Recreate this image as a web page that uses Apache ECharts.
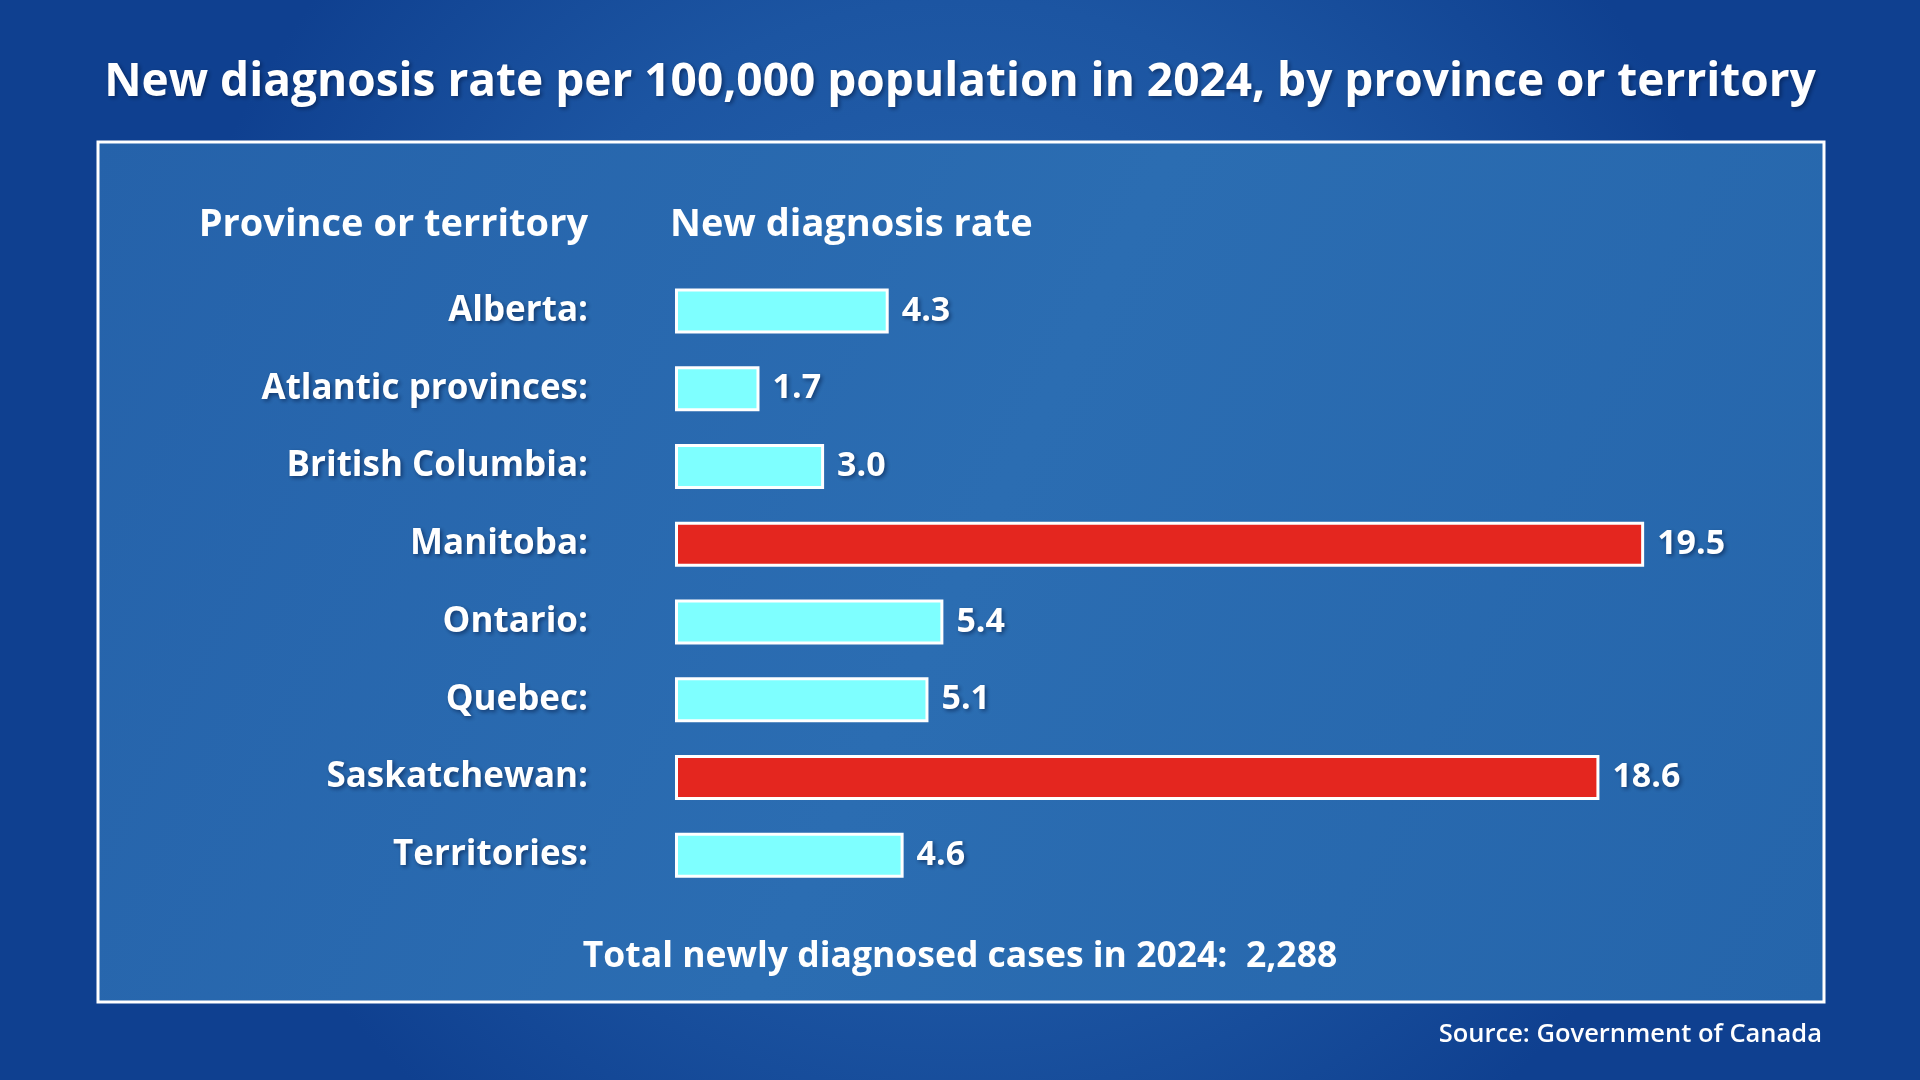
<!DOCTYPE html>
<html>
<head>
<meta charset="utf-8">
<title>New diagnosis rate by province or territory</title>
<script src="https://cdn.jsdelivr.net/npm/echarts@6/dist/echarts.min.js"></script>
<style>
  html, body { margin: 0; padding: 0; background: #134a96; }
  #chart { width: 1920px; height: 1080px; }
</style>
</head>
<body>
<div id="chart"></div>
<script>
const provinces = [
  "Alberta",
  "Atlantic provinces",
  "British Columbia",
  "Manitoba",
  "Ontario",
  "Quebec",
  "Saskatchewan",
  "Territories"
];
const rates = [4.3, 1.7, 3.0, 19.5, 5.4, 5.1, 18.6, 4.6];
const highlighted = ["Manitoba", "Saskatchewan"];

const titleText = "New diagnosis rate per 100,000 population in 2024, by province or territory";
const leftHeader = "Province or territory";
const rightHeader = "New diagnosis rate";
const totalText = "Total newly diagnosed cases in 2024:  2,288";
const sourceText = "Source: Government of Canada";

const FONT = "Open Sans";
const shadow = {
  textShadowColor: "rgba(0, 20, 60, 0.55)",
  textShadowBlur: 4,
  textShadowOffsetX: 2,
  textShadowOffsetY: 2
};
const gShadow = { shadowColor: "rgba(0,20,60,0.55)", shadowBlur: 4, shadowOffsetX: 2, shadowOffsetY: 2 };

const chart = echarts.init(document.getElementById("chart"));

chart.setOption({
  animation: false,
  title: {
    text: titleText,
    left: "center",
    top: 55,
    textStyle: Object.assign({
      color: "#ffffff",
      fontFamily: FONT,
      fontWeight: "bold",
      fontSize: 46
    }, shadow)
  },
  graphic: [
    {
      // page background
      type: "rect",
      z: -20,
      silent: true,
      shape: { x: 0, y: 0, width: 1920, height: 1080 },
      style: {
        fill: {
          type: "radial", x: 0.5, y: 0.45, r: 0.75,
          colorStops: [
            { offset: 0, color: "#2a68b0" },
            { offset: 0.6, color: "#1c55a2" },
            { offset: 1, color: "#0f4090" }
          ]
        }
      }
    },
    {
      // framed panel
      type: "rect",
      z: -10,
      silent: true,
      shape: { x: 98, y: 142, width: 1726, height: 860 },
      style: {
        fill: {
          type: "linear", x: 0, y: 0, x2: 1, y2: 1,
          colorStops: [
            { offset: 0, color: "#2562aa" },
            { offset: 0.5, color: "#2b6db2" },
            { offset: 1, color: "#2565ab" }
          ]
        },
        stroke: "#ffffff",
        lineWidth: 3
      }
    },
    {
      type: "text",
      z: 10,
      style: Object.assign({
        x: 588, y: 225,
        text: leftHeader,
        fill: "#ffffff",
        font: "bold 38px " + FONT,
        textAlign: "right",
        textVerticalAlign: "middle"
      }, gShadow)
    },
    {
      type: "text",
      z: 10,
      style: Object.assign({
        x: 670, y: 225,
        text: rightHeader,
        fill: "#ffffff",
        font: "bold 38px " + FONT,
        textAlign: "left",
        textVerticalAlign: "middle"
      }, gShadow)
    },
    {
      type: "text",
      z: 10,
      style: Object.assign({
        x: 960, y: 957,
        text: totalText,
        fill: "#ffffff",
        font: "bold 35.5px " + FONT,
        textAlign: "center",
        textVerticalAlign: "middle"
      }, gShadow)
    },
    {
      type: "text",
      z: 10,
      style: {
        x: 1822, y: 1035,
        text: sourceText,
        fill: "#ffffff",
        font: "600 25.5px " + FONT,
        textAlign: "right",
        textVerticalAlign: "middle",
        shadowColor: "rgba(0,20,60,0.55)", shadowBlur: 3, shadowOffsetX: 1, shadowOffsetY: 1
      }
    }
  ],
  grid: {
    left: 675,
    width: 994,
    top: 272,
    height: 622
  },
  xAxis: {
    type: "value",
    min: 0,
    max: 20,
    show: false
  },
  yAxis: {
    type: "category",
    inverse: true,
    data: provinces,
    axisLine: { show: false },
    axisTick: { show: false },
    splitLine: { show: false },
    axisLabel: Object.assign({
      margin: 87,
      color: "#ffffff",
      fontFamily: FONT,
      fontWeight: "bold",
      fontSize: 35,
      formatter: (v) => v + ":"
    }, shadow)
  },
  series: [
    {
      type: "bar",
      barWidth: 45,
      data: provinces.map((name, i) => ({
        value: rates[i],
        itemStyle: {
          color: highlighted.includes(name) ? "#e4261f" : "#7effff"
        }
      })),
      itemStyle: {
        borderColor: "#ffffff",
        borderWidth: 3
      },
      label: Object.assign({
        show: true,
        position: "right",
        distance: 13,
        color: "#ffffff",
        fontFamily: FONT,
        fontWeight: "bold",
        fontSize: 34,
        formatter: (p) => p.value.toFixed(1)
      }, shadow)
    }
  ]
});
</script>
</body>
</html>
